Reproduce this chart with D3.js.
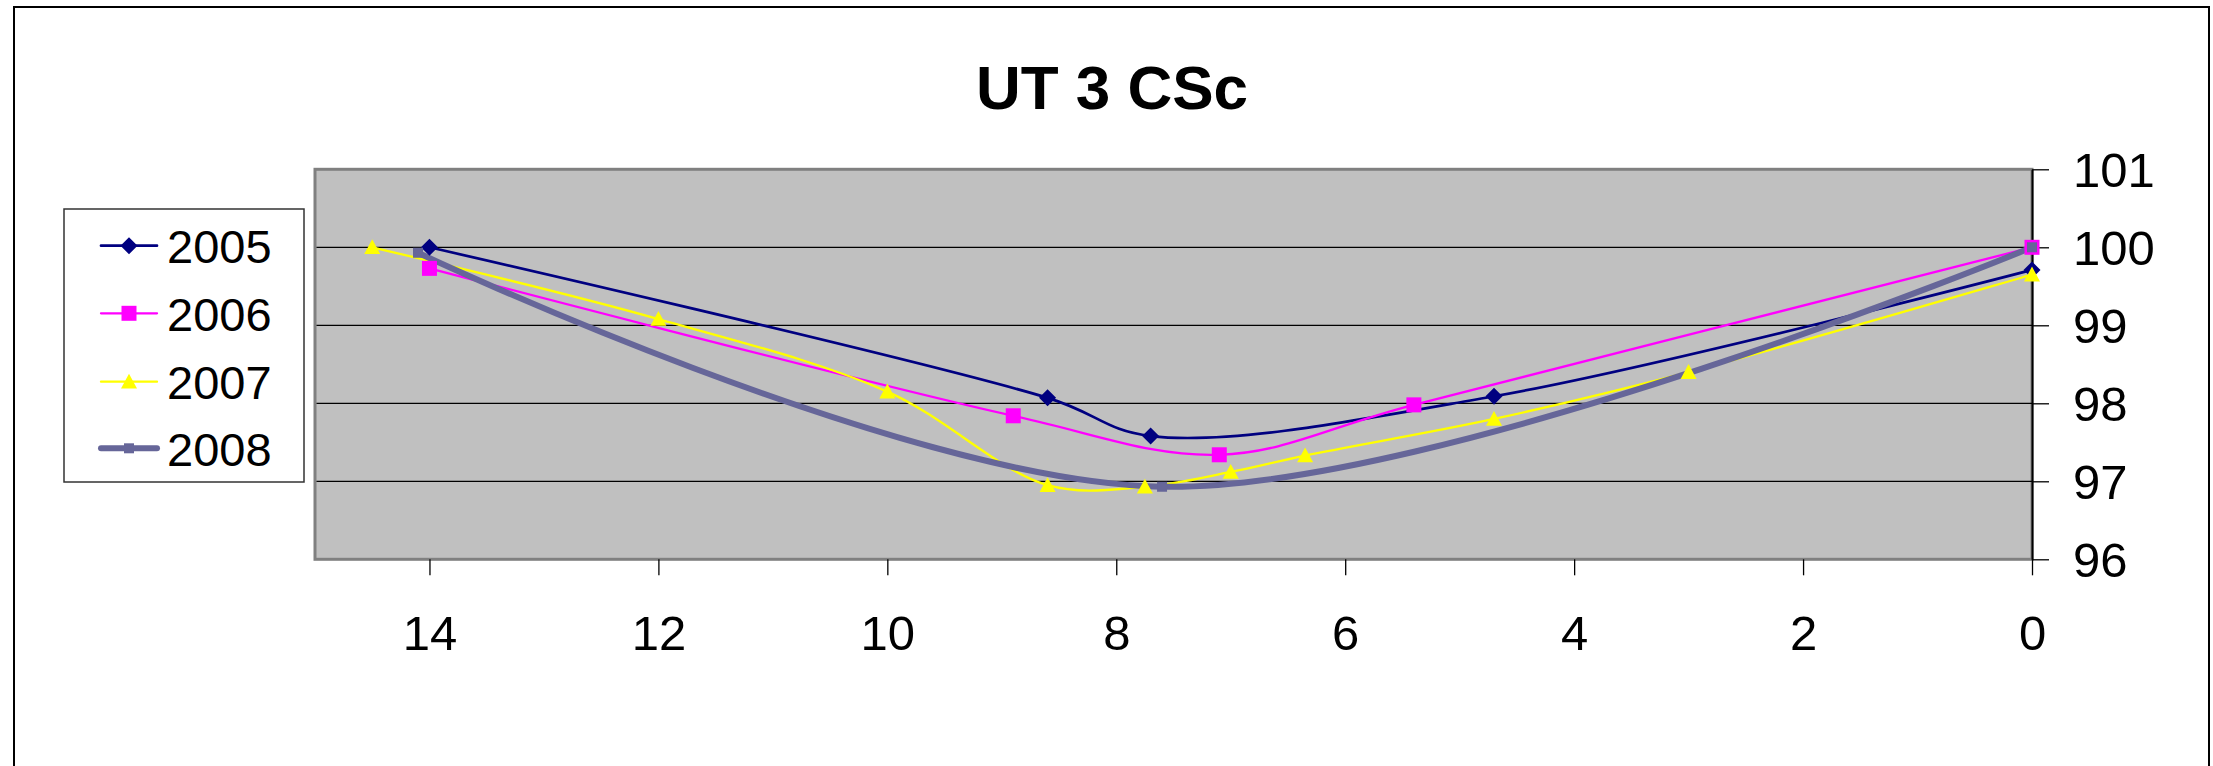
<!DOCTYPE html>
<html>
<head>
<meta charset="utf-8">
<script src="https://cdn.jsdelivr.net/npm/d3@7"></script>
<style>
  body { margin: 0; background: #fff; }
  svg text { font-family: "Liberation Sans", Arial, sans-serif; }
</style>
</head>
<body>
<div id="chart"></div>
<script>
// series values (x = distance, y = index)
const years = ["2005", "2006", "2007", "2008"];
const x2005 = [14, 8.6, 7.7, 4.7, 0];
const y2005 = [100, 98.07, 97.58, 98.09, 99.71];
const x2006 = [14, 8.9, 7.1, 5.4, 0];
const y2006 = [99.73, 97.84, 97.34, 97.98, 100];
const x2007 = [14.5, 12, 10, 8.6, 7.75, 7.0, 6.35, 4.7, 3.0, 0];
const y2007 = [100, 99.08, 98.15, 96.95, 96.93, 97.12, 97.33, 97.8, 98.4, 99.65];
const x2008 = [14.1, 7.6, 0];
const y2008 = [99.93, 96.93, 100];
const xTicks = [14, 12, 10, 8, 6, 4, 2, 0];
const yTicks = [96, 97, 98, 99, 100, 101];

const svgWidth = 2213;
const svgHeight = 766;
const plot = { left: 315, right: 2032, top: 169.3, bottom: 559.3 };

const svg = d3.select("#chart")
    .append("svg")
    .attr("width", svgWidth)
    .attr("height", svgHeight);

// outer chart frame
svg.append("rect")
    .attr("x", 14).attr("y", 7)
    .attr("width", 2195).attr("height", 800)
    .attr("fill", "#fff")
    .attr("stroke", "#000")
    .attr("stroke-width", 2);

svg.append("text")
    .attr("x", 1112)
    .attr("y", 109)
    .attr("text-anchor", "middle")
    .style("font-size", "62px")
    .style("font-weight", "bold")
    .text("UT 3 CSc");

const xScale = d3.scaleLinear().domain([15, 0]).range([plot.left, plot.right]);
const yScale = d3.scaleLinear().domain([96, 101]).range([plot.bottom, plot.top]);

svg.append("rect")
    .attr("x", plot.left).attr("y", plot.top)
    .attr("width", plot.right - plot.left)
    .attr("height", plot.bottom - plot.top)
    .attr("fill", "#c0c0c0")
    .attr("stroke", "#808080")
    .attr("stroke-width", 3);

// gridlines
svg.append("g")
    .selectAll("line")
    .data([97, 98, 99, 100])
    .enter()
    .append("line")
    .attr("x1", plot.left + 1.5)
    .attr("x2", plot.right)
    .attr("y1", d => yScale(d))
    .attr("y2", d => yScale(d))
    .attr("stroke", "#000")
    .attr("stroke-width", 1.3);

// x axis
const xAxis = svg.append("g")
    .attr("transform", "translate(0," + plot.bottom + ")")
    .call(d3.axisBottom(xScale).tickValues(xTicks).tickSize(16).tickPadding(40).tickSizeOuter(0));
xAxis.select(".domain").remove();
xAxis.selectAll("line").attr("stroke", "#000").attr("stroke-width", 1.3);
xAxis.selectAll("text")
    .attr("fill", "#000")
    .style("font-size", "49px")
    .style("font-family", "'Liberation Sans', Arial, sans-serif");

// y axis on the right
const yAxis = svg.append("g")
    .attr("transform", "translate(" + plot.right + ",0)")
    .call(d3.axisRight(yScale).tickValues(yTicks).tickFormat(d3.format("d"))
      .tickSize(17).tickPadding(24).tickSizeOuter(0));
yAxis.select(".domain").attr("stroke", "#000").attr("stroke-width", 2);
yAxis.selectAll("line").attr("stroke", "#000").attr("stroke-width", 1.3);
yAxis.selectAll("text")
    .attr("fill", "#000")
    .attr("dy", "0.36em")
    .style("font-size", "49px")
    .style("font-family", "'Liberation Sans', Arial, sans-serif");

const series = [
  { name: years[0], xs: x2005, ys: y2005, color: "#000080", width: 2.7, marker: "diamond", size: 17 },
  { name: years[1], xs: x2006, ys: y2006, color: "#ff00ff", width: 2.3, marker: "square", size: 15 },
  { name: years[2], xs: x2007, ys: y2007, color: "#ffff00", width: 2.3, marker: "triangle", size: 16 },
  { name: years[3], xs: x2008, ys: y2008, color: "#666699", width: 6, marker: "square", size: 10 }
];

function markerPath(type, s) {
  const h = s / 2;
  if (type === "diamond") return `M0,${-h}L${h},0L0,${h}L${-h},0Z`;
  if (type === "triangle") return `M0,${-h}L${h},${h * 0.85}L${-h},${h * 0.85}Z`;
  return `M${-h},${-h}L${h},${-h}L${h},${h}L${-h},${h}Z`;
}

const line = d3.line()
    .x(d => xScale(d[0]))
    .y(d => yScale(d[1]))
    .curve(d3.curveCatmullRom.alpha(0.5));

const lineLayer = svg.append("g");
const markerLayer = svg.append("g");

series.forEach(s => {
  const pts = s.xs.map((x, i) => [x, s.ys[i]]);
  lineLayer.append("path")
      .datum(pts)
      .attr("d", line)
      .attr("fill", "none")
      .attr("stroke", s.color)
      .attr("stroke-width", s.width)
      .attr("stroke-linejoin", "round");
  markerLayer.append("g")
      .selectAll("path")
      .data(pts)
      .enter()
      .append("path")
      .attr("transform", d => "translate(" + xScale(d[0]) + "," + yScale(d[1]) + ")")
      .attr("d", markerPath(s.marker, s.size))
      .attr("fill", s.color);
});

// legend
const legend = svg.append("g");
legend.append("rect")
    .attr("x", 64).attr("y", 209)
    .attr("width", 240).attr("height", 273)
    .attr("fill", "#fff")
    .attr("stroke", "#333")
    .attr("stroke-width", 1.5);

const rowY = [245.7, 313.3, 381.7, 448.3];
series.forEach((s, i) => {
  const g = legend.append("g").attr("transform", "translate(0," + rowY[i] + ")");
  g.append("line")
      .attr("x1", 101).attr("x2", 157)
      .attr("stroke", s.color)
      .attr("stroke-width", s.width)
      .attr("stroke-linecap", "round");
  g.append("path")
      .attr("transform", "translate(129,0)")
      .attr("d", markerPath(s.marker, s.size))
      .attr("fill", s.color);
  g.append("text")
      .attr("x", 167)
      .attr("y", 17.5)
      .style("font-size", "47px")
      .text(s.name);
});
</script>
</body>
</html>
